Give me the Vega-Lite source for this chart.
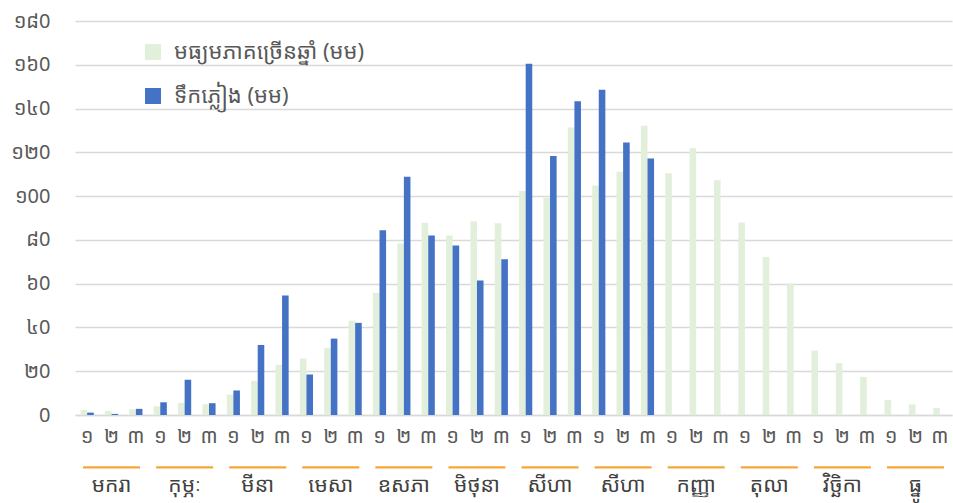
{
  "$schema": "https://vega.github.io/schema/vega-lite/v6.json",
  "width": 877,
  "height": 394,
  "autosize": {"type": "none"},
  "padding": {"left": 75, "top": 21, "right": 1, "bottom": 88},
  "config": {"view": {"stroke": null}, "font": "Noto Sans Khmer, Khmer OS, Noto Sans, DejaVu Sans"},
  "datasets": {
    "rain": [
      {"k": "m01-១", "s": "avg", "v": 2.3}, {"k": "m01-១", "s": "rain", "v": 1.1},
      {"k": "m01-២", "s": "avg", "v": 1.8}, {"k": "m01-២", "s": "rain", "v": 0.5},
      {"k": "m01-៣", "s": "avg", "v": 2.6}, {"k": "m01-៣", "s": "rain", "v": 2.8},
      {"k": "m02-១", "s": "avg", "v": 4.0}, {"k": "m02-១", "s": "rain", "v": 5.8},
      {"k": "m02-២", "s": "avg", "v": 5.5}, {"k": "m02-២", "s": "rain", "v": 16.1},
      {"k": "m02-៣", "s": "avg", "v": 4.9}, {"k": "m02-៣", "s": "rain", "v": 5.4},
      {"k": "m03-១", "s": "avg", "v": 9.3}, {"k": "m03-១", "s": "rain", "v": 11.2},
      {"k": "m03-២", "s": "avg", "v": 15.6}, {"k": "m03-២", "s": "rain", "v": 32.0},
      {"k": "m03-៣", "s": "avg", "v": 22.9}, {"k": "m03-៣", "s": "rain", "v": 54.6},
      {"k": "m04-១", "s": "avg", "v": 25.8}, {"k": "m04-១", "s": "rain", "v": 18.5},
      {"k": "m04-២", "s": "avg", "v": 30.7}, {"k": "m04-២", "s": "rain", "v": 34.9},
      {"k": "m04-៣", "s": "avg", "v": 43.1}, {"k": "m04-៣", "s": "rain", "v": 42.1},
      {"k": "m05-១", "s": "avg", "v": 55.8}, {"k": "m05-១", "s": "rain", "v": 84.4},
      {"k": "m05-២", "s": "avg", "v": 78.4}, {"k": "m05-២", "s": "rain", "v": 108.9},
      {"k": "m05-៣", "s": "avg", "v": 87.8}, {"k": "m05-៣", "s": "rain", "v": 82.0},
      {"k": "m06-១", "s": "avg", "v": 82.0}, {"k": "m06-១", "s": "rain", "v": 77.4},
      {"k": "m06-២", "s": "avg", "v": 88.5}, {"k": "m06-២", "s": "rain", "v": 61.5},
      {"k": "m06-៣", "s": "avg", "v": 87.6}, {"k": "m06-៣", "s": "rain", "v": 71.1},
      {"k": "m07-១", "s": "avg", "v": 102.3}, {"k": "m07-១", "s": "rain", "v": 160.5},
      {"k": "m07-២", "s": "avg", "v": 99.2}, {"k": "m07-២", "s": "rain", "v": 118.3},
      {"k": "m07-៣", "s": "avg", "v": 131.3}, {"k": "m07-៣", "s": "rain", "v": 143.3},
      {"k": "m08-១", "s": "avg", "v": 104.9}, {"k": "m08-១", "s": "rain", "v": 148.6},
      {"k": "m08-២", "s": "avg", "v": 111.1}, {"k": "m08-២", "s": "rain", "v": 124.5},
      {"k": "m08-៣", "s": "avg", "v": 132.2}, {"k": "m08-៣", "s": "rain", "v": 117.2},
      {"k": "m09-១", "s": "avg", "v": 110.4},
      {"k": "m09-២", "s": "avg", "v": 121.9},
      {"k": "m09-៣", "s": "avg", "v": 107.3},
      {"k": "m10-១", "s": "avg", "v": 87.9},
      {"k": "m10-២", "s": "avg", "v": 72.2},
      {"k": "m10-៣", "s": "avg", "v": 60.1},
      {"k": "m11-១", "s": "avg", "v": 29.4},
      {"k": "m11-២", "s": "avg", "v": 23.7},
      {"k": "m11-៣", "s": "avg", "v": 17.4},
      {"k": "m12-១", "s": "avg", "v": 6.9},
      {"k": "m12-២", "s": "avg", "v": 4.9},
      {"k": "m12-៣", "s": "avg", "v": 3.2}
    ],
    "months": [
      {"m": "m01"}, {"m": "m02"}, {"m": "m03"}, {"m": "m04"}, {"m": "m05"}, {"m": "m06"},
      {"m": "m07"}, {"m": "m08"}, {"m": "m09"}, {"m": "m10"}, {"m": "m11"}, {"m": "m12"}
    ]
  },
  "layer": [
    {
      "data": {"name": "rain"},
      "mark": {"type": "bar"},
      "encoding": {
        "x": {
          "field": "k", "type": "nominal",
          "scale": {"paddingInner": 0.46, "paddingOuter": 0.23},
          "axis": {"title": null, "labelExpr": "split(datum.value,'-')[1]", "labelAngle": 0, "ticks": false,
            "domainColor": "#D9D9D9", "domainWidth": 1.5, "labelFontSize": 20, "labelColor": "#595959",
            "labelPadding": 11, "grid": false}
        },
        "xOffset": {"field": "s", "type": "nominal", "scale": {"domain": ["avg", "rain"], "padding": 0}},
        "y": {
          "field": "v", "type": "quantitative",
          "scale": {"domain": [0, 180], "nice": false},
          "axis": {"title": null, "values": [0, 20, 40, 60, 80, 100, 120, 140, 160, 180],
            "labelExpr": "{'0':'0','20':'២0','40':'៤0','60':'៦0','80':'៨0','100':'១00','120':'១២0','140':'១៤0','160':'១៦0','180':'១៨0'}[datum.value+'']",
            "grid": true, "gridColor": "#D9D9D9", "gridWidth": 1.5, "domain": false, "ticks": false,
            "labelPadding": 25, "labelFontSize": 20, "labelColor": "#595959"}
        },
        "color": {
          "field": "s", "type": "nominal",
          "scale": {"domain": ["avg", "rain"], "range": ["#E2EFDA", "#4472C4"]},
          "legend": {"orient": "none", "legendX": 67, "legendY": 20, "title": null,
            "labelExpr": "datum.value=='avg'?'មធ្យមភាគច្រើនឆ្នាំ (មម)':'ទឹកភ្លៀង (មម)'",
            "symbolType": "square", "symbolSize": 256, "symbolStrokeWidth": 0, "labelLimit": 500,
            "labelFontSize": 22, "labelColor": "#595959", "rowPadding": 22, "labelOffset": 10}
        }
      }
    },
    {
      "data": {"name": "months"},
      "mark": {"type": "bar", "color": "#F7A638", "width": {"band": 0.78}},
      "encoding": {
        "x": {
          "field": "m", "type": "nominal",
          "scale": {"paddingInner": 0, "paddingOuter": 0},
          "axis": {"orient": "bottom", "offset": 52, "title": null,
            "labelExpr": "{'m01':'មករា','m02':'កុម្ភៈ','m03':'មីនា','m04':'មេសា','m05':'ឧសភា','m06':'មិថុនា','m07':'សីហា','m08':'សីហា','m09':'កញ្ញា','m10':'តុលា','m11':'វិច្ឆិកា','m12':'ធ្នូ'}[datum.value]",
            "ticks": false, "domain": false, "labelAngle": 0, "labelFontSize": 21, "labelColor": "#404040", "labelPadding": 7}
        },
        "y": {"datum": -23.4, "type": "quantitative", "scale": {"domain": [0, 180], "nice": false}, "title": null},
        "y2": {"datum": -24.4}
      }
    }
  ],
  "resolve": {"scale": {"x": "independent"}}
}
